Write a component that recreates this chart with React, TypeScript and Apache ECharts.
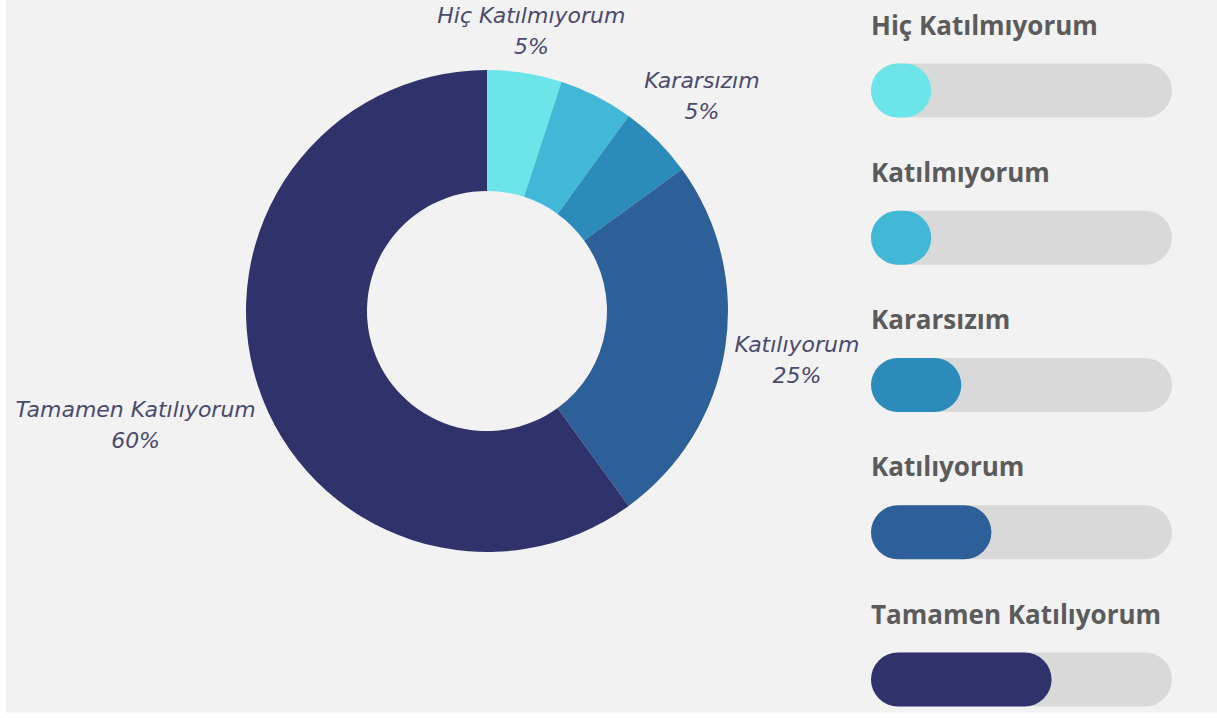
import React, { useEffect, useRef } from "react";
import * as echarts from "echarts";

const categories = ["Hiç Katılmıyorum", "Katılmıyorum", "Kararsızım", "Katılıyorum", "Tamamen Katılıyorum"];
const pieValues = [5, 5, 5, 25, 60];
const barValues = [20, 20, 30, 40, 60];
const colors = ["#6be5e8", "#41b8d6", "#2b8bba", "#2d5f98", "#30336b"];
const hiddenPieLabels = ["Katılmıyorum"];

const CX = 481;
const CY = 311;
const R0 = 120;
const R = 241;

export default function App() {
  const ref = useRef<HTMLDivElement>(null);
  useEffect(() => {
    document.body.style.margin = "0";
    document.body.style.background = "#ffffff";
    const chart = echarts.init(ref.current!, undefined, { renderer: "svg" });
    const total = pieValues.reduce((a, b) => a + b, 0);
    chart.setOption({
      animation: false,
      backgroundColor: "#f2f2f2",
      grid: { left: 865, width: 301, top: 90.5, height: 589 },
      xAxis: { type: "value", min: 0, max: 100, show: false },
      yAxis: {
        type: "category",
        data: categories,
        inverse: true,
        boundaryGap: false,
        show: false,
      },
      series: [
        {
          type: "pie",
          center: [CX, CY],
          radius: [R0, R],
          startAngle: 90,
          clockwise: true,
          avoidLabelOverlap: false,
          labelLine: { show: false },
          label: {
            show: true,
            position: "outside",
            formatter: "{b}\n{c}%",
            fontFamily: "DejaVu Sans",
            fontStyle: "italic",
            fontSize: 22,
            lineHeight: 31,
            color: "#4a4a6e",
            align: "center",
          },
          labelLayout: (p: any) => {
            const i = p.dataIndex;
            let cum = 0;
            for (let j = 0; j < i; j++) cum += pieValues[j];
            const mid = ((cum + pieValues[i] / 2) / total) * Math.PI * 2;
            const dx = Math.sin(mid);
            const dy = -Math.cos(mid);
            const hw = p.labelRect.width / 2;
            const hh = 20;
            const ext = Math.abs(dx) * hw + Math.abs(dy) * hh;
            const d = R + 8 + ext;
            return { x: CX + dx * d, y: CY + dy * d, align: "center", verticalAlign: "middle" };
          },
          data: categories.map((name, i) => ({
            name,
            value: pieValues[i],
            itemStyle: { color: colors[i] },
            label: { show: hiddenPieLabels.indexOf(name) < 0 },
          })),
        },
        {
          type: "bar",
          barWidth: 54,
          showBackground: true,
          backgroundStyle: { color: "#d9d9d9", borderRadius: 27 },
          label: {
            show: true,
            position: [0, -39],
            formatter: "{b}",
            fontFamily: "Open Sans",
            fontWeight: "bold",
            fontSize: 26,
            color: "#5b5b5b",
            align: "left",
            verticalAlign: "middle",
          },
          data: barValues.map((v, i) => ({
            value: v,
            itemStyle: { color: colors[i], borderRadius: 27 },
          })),
        },
      ],
    });
    return () => chart.dispose();
  }, []);
  return <div ref={ref} style={{ marginLeft: 6, width: 1211, height: 713 }} />;
}
